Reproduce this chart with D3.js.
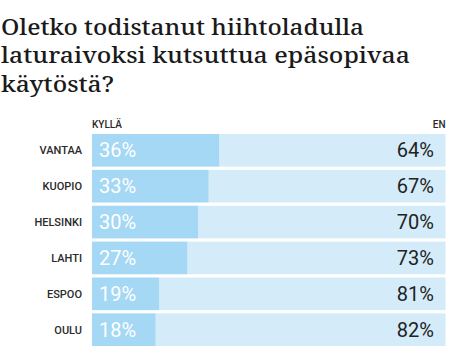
<!DOCTYPE html>
<html><head><meta charset="utf-8">
<script src="https://cdn.jsdelivr.net/npm/d3@7/dist/d3.min.js"></script>
<style>body{margin:0;background:#fff}</style>
</head><body>
<script>
const cities = ["VANTAA","KUOPIO","HELSINKI","LAHTI","ESPOO","OULU"];
const yes = [36,33,30,27,19,18];
const no = [64,67,70,73,81,82];
const titleLines = ["Oletko todistanut hiihtoladulla","laturaivoksi kutsuttua epäsopivaa","käytöstä?"];
const legendLabels = ["KYLLÄ","EN"];

const W=450,H=360;
const svg=d3.select("body").append("svg").attr("width",W).attr("height",H);

const titleLens=[363,409,113];
titleLines.forEach((t,i)=>{
  svg.append("text").attr("x",1).attr("y",34.5+i*28.5)
    .style("font-family","'Noto Serif','DejaVu Serif','Liberation Serif',serif").style("font-size","21.5px")
    .style("font-weight","500").attr("fill","#1a1a1a")
    .attr("textLength",titleLens[i]).attr("lengthAdjust","spacingAndGlyphs").text(t);
});

const x=d3.scaleLinear().domain([0,100]).range([92,445.5]);
const y=d3.scaleBand().domain(cities).range([134,346]).paddingInner(0.09).paddingOuter(0);

const g=svg.append("g");
const rows=g.selectAll("g.row").data(cities.map((c,i)=>({c,y:yes[i],n:no[i]}))).join("g");
rows.append("rect").attr("x",d=>x(d.y)).attr("y",d=>y(d.c)).attr("width",d=>x(100)-x(d.y)).attr("height",y.bandwidth()).attr("fill","#d4ecf9");
rows.append("rect").attr("x",x(0)).attr("y",d=>y(d.c)).attr("width",d=>x(d.y)-x(0)).attr("height",y.bandwidth()).attr("fill","#a4d8f4");
rows.append("text").attr("x",82).attr("y",d=>y(d.c)+y.bandwidth()/2+4).attr("text-anchor","end")
  .style("font-family","Roboto").style("font-weight","500").style("font-size","11px").attr("fill","#2a2a2a").text(d=>d.c);
rows.append("text").attr("x",x(0)+7).attr("y",d=>y(d.c)+y.bandwidth()/2+7)
  .style("font-family","Roboto").style("font-weight","400").style("font-size","20px").attr("fill","#fff").text(d=>d.y+"%");
rows.append("text").attr("x",434).attr("y",d=>y(d.c)+y.bandwidth()/2+7).attr("text-anchor","end")
  .style("font-family","Roboto").style("font-size","20px").attr("fill","#222").text(d=>d.n+"%");

svg.append("text").attr("x",x(0)).attr("y",128).style("font-family","Roboto").style("font-weight","500").style("font-size","10px").attr("fill","#2a2a2a").text(legendLabels[0]);
svg.append("text").attr("x",x(100)).attr("y",128).attr("text-anchor","end").style("font-family","Roboto").style("font-weight","500").style("font-size","10px").attr("fill","#2a2a2a").text(legendLabels[1]);
</script>
</body></html>
